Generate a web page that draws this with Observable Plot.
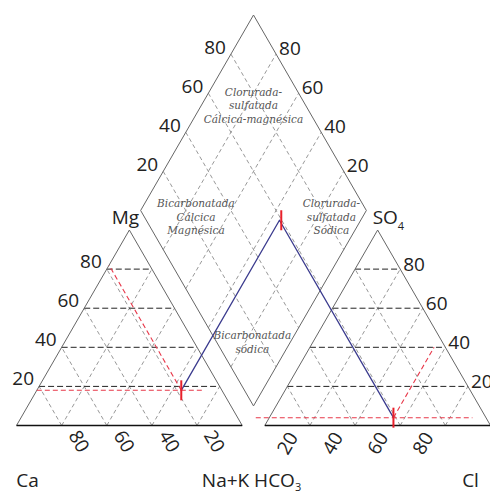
<!DOCTYPE html>
<html><head><meta charset="utf-8">
<script src="https://cdn.jsdelivr.net/npm/d3@7"></script>
<script src="https://cdn.jsdelivr.net/npm/@observablehq/plot@0.6"></script>
<style>body{margin:0;background:#fff}svg{display:block}</style>
</head><body><div id="chart"></div>
<script>
// ---- data ----
const tickValues = [20, 40, 60, 80];
const sampleCa = [18], sampleMg = [18], sampleNaK = [64];
const sampleHCO3 = [41], sampleSO4 = [4], sampleCl = [55];
const regionNames = ["Clorurada-\nsulfatada\nCálcica-magnésica", "Bicarbonatada\nCálcica\nMagnésica", "Clorurada-\nsulfatada\nSódica", "Bicarbonatada\nsódica"];
const regionNaK = [23, 26, 86, 83];
const regionSO4Cl = [77, 23, 83, 16];
const cornerNames = ["Ca", "Na+K HCO3", "Cl", "Mg", "SO4"];
const guideLeftNaK = [0, 74];     // extent of the Mg guide (Na+K %)
const guideLeftMgTop = [82];      // Ca guide reaches this Mg %
const guideRightCl = [-6, 90];    // extent of the SO4 guide (Cl %)
const guideRightSO4Top = [40];    // Cl guide reaches this SO4 %

// ---- geometry (ternary -> plane units) ----
const H = Math.sqrt(3) / 2, GAP = 10;
const cat = (ca, mg, na) => [na + mg / 2, mg * H];
const an = (hco3, so4, cl) => [100 + GAP + cl + so4 / 2, so4 * H];
const dia = (na, b) => [100 + GAP / 2 + (b - (100 - na)) / 2, GAP * H + ((100 - na) + b) * H];
const seg = (p, q) => ({x1: p[0], y1: p[1], x2: q[0], y2: q[1]});
const pt = (p, extra = {}) => ({x: p[0], y: p[1], ...extra});

const gridGrey = [], gridBlack = [];
for (const t of tickValues) {
  gridBlack.push(seg(cat(100 - t, t, 0), cat(0, t, 100 - t)));
  gridGrey.push(seg(cat(t, 0, 100 - t), cat(t, 100 - t, 0)));
  gridGrey.push(seg(cat(100 - t, 0, t), cat(0, 100 - t, t)));
  gridBlack.push(seg(an(100 - t, t, 0), an(0, t, 100 - t)));
  gridGrey.push(seg(an(t, 0, 100 - t), an(t, 100 - t, 0)));
  gridGrey.push(seg(an(100 - t, 0, t), an(0, 100 - t, t)));
  gridGrey.push(seg(dia(t, 0), dia(t, 100)));
  gridGrey.push(seg(dia(0, t), dia(100, t)));
}
const outlines = [
  seg(cat(100, 0, 0), cat(0, 100, 0)), seg(cat(0, 100, 0), cat(0, 0, 100)),
  seg(an(100, 0, 0), an(0, 100, 0)), seg(an(0, 100, 0), an(0, 0, 100)),
  seg(dia(100, 0), dia(0, 0)), seg(dia(0, 0), dia(0, 100)),
  seg(dia(0, 100), dia(100, 100)), seg(dia(100, 100), dia(100, 0))
];
const bases = [seg(cat(100, 0, 0), cat(0, 0, 100)), seg(an(100, 0, 0), an(0, 0, 100))];

const ca = sampleCa[0], mg = sampleMg[0], na = sampleNaK[0];
const hc = sampleHCO3[0], so = sampleSO4[0], cl = sampleCl[0];
const pL = cat(ca, mg, na), pR = an(hc, so, cl), pD = dia(na, so + cl);
const guides = [
  seg(cat(100 - mg - guideLeftNaK[0], mg, guideLeftNaK[0]), cat(100 - mg - guideLeftNaK[1], mg, guideLeftNaK[1])),
  seg(pL, cat(ca, guideLeftMgTop[0], 100 - ca - guideLeftMgTop[0])),
  seg(an(100 - so - guideRightCl[0], so, guideRightCl[0]), an(100 - so - guideRightCl[1], so, guideRightCl[1])),
  seg(pR, an(100 - cl - guideRightSO4Top[0], guideRightSO4Top[0], cl))
];
const path = [pt(pL), pt(pD), pt(pR)];
const markers = [pt(pL), pt([pD[0] + 0.8, pD[1]]), pt(pR)];

const labMg = tickValues.map(t => pt(cat(100 - t, t, 0), {t}));
const labCa = tickValues.map(t => pt(cat(t, 0, 100 - t), {t}));
const labSO4 = tickValues.map(t => pt(an(0, t, 100 - t), {t}));
const labCl = tickValues.map(t => pt(an(100 - t, 0, t), {t}));
const labDL = tickValues.map(t => pt(dia(0, t), {t}));
const labDR = tickValues.map(t => pt(dia(100 - t, 100), {t}));
const regions = regionNames.map((n, i) => pt(dia(regionNaK[i], regionSO4Cl[i]), {n}));

const corners = [
  pt(cat(100, 0, 0), {n: cornerNames[0], dx: 11, dy: 55}),
  pt([100 + GAP / 2, 0], {n: cornerNames[1], dx: -2, dy: 55}),
  pt(an(0, 0, 100), {n: cornerNames[2], dx: -20, dy: 55}),
  pt(cat(0, 100, 0), {n: cornerNames[3], dx: -4, dy: -12}),
  pt(an(0, 100, 0), {n: cornerNames[4], dx: -5, dy: -12})
];

const vbar = {draw(ctx, size) { const r = Math.sqrt(size / Math.PI); ctx.moveTo(0, -r); ctx.lineTo(0, r); }};
const k = 474 / 210;
const F = "Open Sans, sans-serif";
const tk = (data, o) => Plot.text(data, {x: "x", y: "y", text: d => String(d.t), fontSize: 19, fontFamily: F, fill: "#222", ...o});

const chart = Plot.plot({
  width: 490, height: 495,
  margin: 0,
  x: {domain: [0, 210], range: [16, 490], axis: null},
  y: {domain: [0, 100], range: [425, 425 - 100 * k], axis: null},
  marks: [
    Plot.link(gridGrey, {x1: "x1", y1: "y1", x2: "x2", y2: "y2", stroke: "#8c8c8c", strokeWidth: 0.9, strokeDasharray: "4,3"}),
    Plot.link(gridBlack, {x1: "x1", y1: "y1", x2: "x2", y2: "y2", stroke: "#222", strokeWidth: 1, strokeDasharray: "6,3"}),
    Plot.link(outlines, {x1: "x1", y1: "y1", x2: "x2", y2: "y2", stroke: "#666", strokeWidth: 1}),
    Plot.link(bases, {x1: "x1", y1: "y1", x2: "x2", y2: "y2", stroke: "#111", strokeWidth: 1.6}),
    Plot.link(guides, {x1: "x1", y1: "y1", x2: "x2", y2: "y2", stroke: "#e8384a", strokeWidth: 1.1, strokeDasharray: "5,3"}),
    Plot.line(path, {x: "x", y: "y", stroke: "#3b3b8e", strokeWidth: 1.3}),
    Plot.dot(markers, {x: "x", y: "y", symbol: vbar, r: 10, stroke: "#e8202a", strokeWidth: 2, fill: "none"}),
    Plot.text(regions, {x: "x", y: "y", text: "n", fontFamily: "DejaVu Serif", fontStyle: "italic", fontSize: 10.5, lineHeight: 1.3, fill: "#555"}),
    tk(labMg, {textAnchor: "end", dx: -5, dy: -7}),
    tk(labCa, {rotate: 60, dx: 17, dy: 16}),
    tk(labSO4, {textAnchor: "start", dx: 3, dy: -4}),
    tk(labCl, {rotate: -60, dx: -22, dy: 18}),
    tk(labDL, {textAnchor: "end", dx: -5, dy: -6}),
    tk(labDR, {textAnchor: "start", dx: 3, dy: -5}),
    Plot.text(corners, {x: "x", y: "y", text: "n", fontSize: 19, fontFamily: F, fill: "#222"})
  ]
});
document.getElementById("chart").append(chart);

// apply per-label offsets and subscripts
d3.select(chart).selectAll("text").filter(function () { return cornerNames.includes(this.textContent); }).each(function () {
  const c = corners.find(d => d.n === this.textContent);
  const tr = this.getAttribute("transform") || "";
  this.setAttribute("transform", tr + ` translate(${c.dx},${c.dy})`);
  if (c.n === "SO4") { this.setAttribute("text-anchor", "start"); this.textContent = "SO"; d3.select(this).append("tspan").attr("font-size", 11).attr("dy", 6).text("4"); }
  if (c.n === "Na+K HCO3") { this.textContent = "Na+K HCO"; d3.select(this).append("tspan").attr("font-size", 11).attr("dy", 4).text("3"); }
});
</script>
</body></html>
